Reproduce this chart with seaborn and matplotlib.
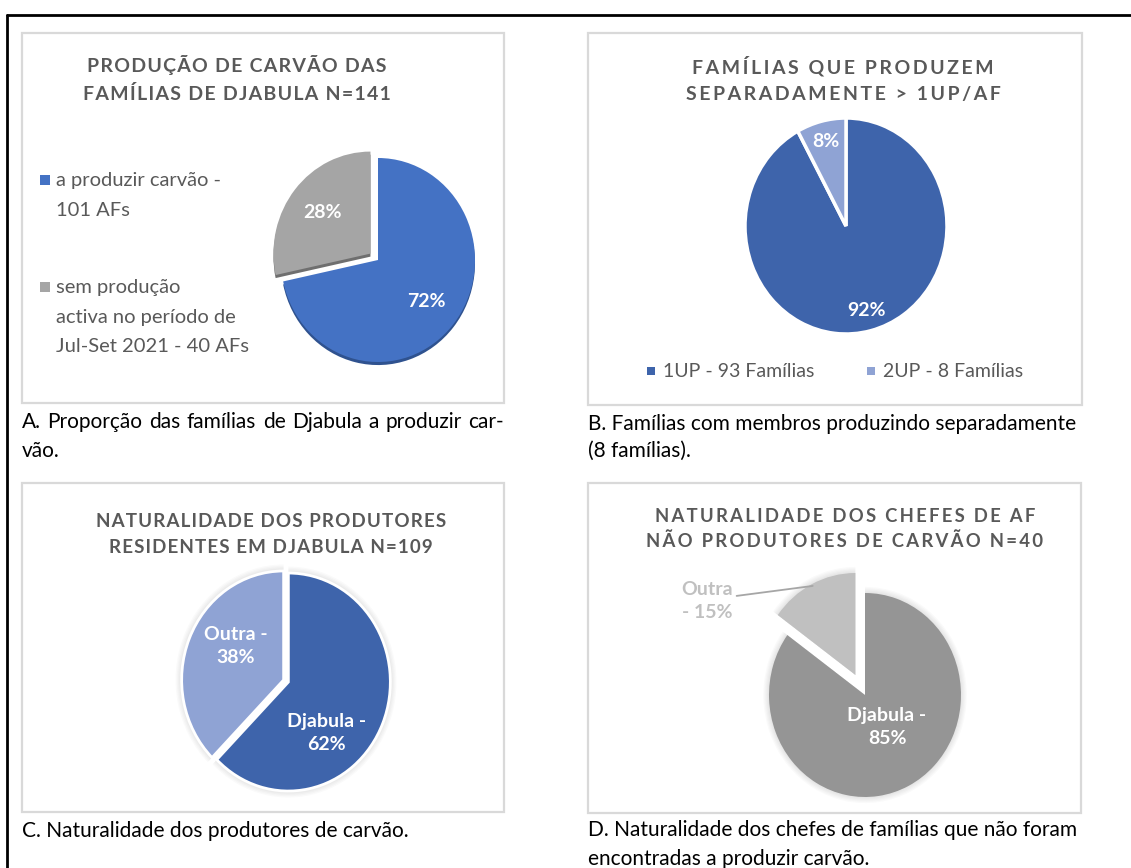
import matplotlib
matplotlib.use("Agg")
import matplotlib.pyplot as plt
from matplotlib.patches import Rectangle
from matplotlib.lines import Line2D
import numpy as np
import seaborn as sns

# values
a_labels = ["a produzir carvão -\n101 AFs", "sem produção\nactiva no período de\nJul-Set 2021 - 40 AFs"]
a_counts = [101, 40]
b_labels = ["1UP - 93 Famílias", "2UP - 8 Famílias"]
b_counts = [93, 8]
c_names = ["Djabula", "Outra"]
c_counts = [68, 41]
d_names = ["Djabula", "Outra"]
d_counts = [34, 6]

titles = [
    ["PRODUÇÃO DE CARVÃO DAS", "FAMÍLIAS DE DJABULA N=141"],
    ["FAMÍLIAS QUE PRODUZEM", "SEPARADAMENTE > 1UP/AF"],
    ["NATURALIDADE DOS PRODUTORES", "RESIDENTES EM DJABULA N=109"],
    ["NATURALIDADE DOS CHEFES DE AF", "NÃO PRODUTORES DE CARVÃO N=40"],
]
captions = [
    ["A. Proporção das famílias de Djabula a produzir car-", "vão."],
    ["B. Famílias com membros produzindo separadamente", "(8 famílias)."],
    ["C. Naturalidade dos produtores de carvão."],
    ["D. Naturalidade dos chefes de famílias que não foram", "encontradas a produzir carvão."],
]

sns.set_theme(style="white")
plt.rcParams['font.family'] = ['Lato', 'DejaVu Sans']

a_colors = sns.color_palette(["#4472C4", "#A5A5A5"])
a_dark = sns.color_palette(["#2F528F", "#6F6F6F"])
bc_colors = sns.color_palette(["#3E64AB", "#8FA3D4"])
d_colors = sns.color_palette(["#959595", "#C0C0C0"])
TXT = "#595959"

W, H = 1131, 868
fig = plt.figure(figsize=(W / 100, H / 100), dpi=100)
renderer = fig.canvas.get_renderer()


def fx(x):
    return x / W


def fy(y):
    return 1 - y / H


def box(x0, y0, x1, y1, **kw):
    fig.add_artist(Rectangle((fx(x0), fy(y1)), (x1 - x0) / W, (y1 - y0) / H,
                             transform=fig.transFigure, **kw))


def spaced(s, n):
    return ("\u200a" * n).join(s)


def justify(x0, x1, y, line, **kw):
    words = line.split(" ")
    arts = [fig.text(0, fy(y), w, ha='left', va='baseline', **kw) for w in words]
    widths = [a.get_window_extent(renderer).width for a in arts]
    gap = (x1 - x0 - sum(widths)) / (len(words) - 1)
    x = x0
    for a, wd in zip(arts, widths):
        a.set_x(fx(x))
        x += wd + gap


def pie_axes(cx, cy, rx, ry, half=150):
    ax = fig.add_axes([fx(cx - half), fy(cy + half), 2 * half / W, 2 * half / H])
    ax.patch.set_visible(False)
    return ax, half / rx, half / ry


def finish(ax, hx, hy):
    ax.set_aspect('auto')
    ax.set_xlim(-hx, hx)
    ax.set_ylim(-hy, hy)
    ax.axis('off')


def glow(ax, counts, explode):
    for k in range(1, 6):
        ax.pie(counts, startangle=90, counterclock=False, explode=explode,
               radius=1 + 0.012 * k, colors=['black'] * len(counts),
               wedgeprops=dict(alpha=0.018, linewidth=0))


# outer frame
fig.add_artist(Line2D([fx(7), 1], [fy(15), fy(15)], transform=fig.transFigure, color='black', lw=2))
fig.add_artist(Line2D([fx(7), fx(7)], [fy(15), 0], transform=fig.transFigure, color='black', lw=2))

# panel boxes
panels = [(22, 33, 504, 403), (588, 33, 1082, 405), (22, 483, 504, 812), (588, 483, 1081, 813)]
for p in panels:
    box(*p, facecolor='white', edgecolor='#D9D9D9', lw=1.6, zorder=0)

# titles
title_pos = [(237, [72, 100], 1), (843, [73, 100], 2), (271, [527, 553], 1), (845, [522, 547], 2)]
title_size = [14, 14, 13.5, 13.3]
for t, (x, ys, n), fs in zip(titles, title_pos, title_size):
    for line, y in zip(t, ys):
        fig.text(fx(x), fy(y), spaced(line, n), ha='center', va='baseline',
                 fontsize=fs, fontweight='bold', color=TXT)

# captions
cap_pos = [(22, [428, 457]), (588, [430, 457]), (22, [837]), (588, [836, 865])]
for i, (c, (x, ys)) in enumerate(zip(captions, cap_pos)):
    for j, (line, y) in enumerate(zip(c, ys)):
        if i == 0 and j == 0:
            justify(22, 504, y, line, fontsize=15, color='black')
        else:
            fig.text(fx(x), fy(y), line, ha='left', va='baseline', fontsize=15, color='black')

# ---- A ----
ax, hx, hy = pie_axes(378, 260, 97, 102)
ax.pie(a_counts, colors=a_dark, startangle=90, counterclock=False,
       explode=[0, 0.1], center=(0, -0.03), wedgeprops=dict(linewidth=0))
ax.pie(a_counts, colors=a_colors, startangle=90, counterclock=False,
       explode=[0, 0.1], autopct='%1.0f%%', pctdistance=0.64,
       wedgeprops=dict(linewidth=0),
       textprops=dict(color='white', fontsize=14, fontweight='bold'))
finish(ax, hx, hy)

leg_rows = [(180, [186, 216]), (287, [293, 323, 352])]
for lab, col, (my, ys) in zip(a_labels, a_colors, leg_rows):
    box(40, my - 5, 50, my + 5, facecolor=col, edgecolor='none')
    for line, y in zip(lab.split("\n"), ys):
        fig.text(fx(56), fy(y), line, ha='left', va='baseline', fontsize=14.5, color=TXT)

# ---- B ----
ax, hx, hy = pie_axes(846, 226, 101, 108)
ax.pie(b_counts, colors=bc_colors, startangle=90, counterclock=False,
       autopct='%1.0f%%', pctdistance=0.81,
       wedgeprops=dict(edgecolor='white', linewidth=2.5),
       textprops=dict(color='white', fontsize=14, fontweight='bold'))
finish(ax, hx, hy)
for lab, col, mx in zip(b_labels, bc_colors, [647, 867]):
    box(mx, 367, mx + 8, 375, facecolor=col, edgecolor='none')
    fig.text(fx(mx + 16), fy(377), lab, ha='left', va='baseline', fontsize=14, color=TXT)


def pie_label(ax, name, count, total, ang, dist, col):
    ax.text(dist * np.cos(np.radians(ang)), dist * np.sin(np.radians(ang)),
            f"{name} -\n{100 * count / total:.0f}%", ha='center', va='center', color=col,
            fontsize=14, fontweight='bold', linespacing=1.45)


# ---- C ----
ax, hx, hy = pie_axes(286, 681, 102, 109)
glow(ax, c_counts, [0.025, 0.025])
ax.pie(c_counts, colors=bc_colors, startangle=90, counterclock=False,
       explode=[0.025, 0.025], wedgeprops=dict(edgecolor='white', linewidth=2))
for name, cnt, ang, dist in zip(c_names, c_counts, [-50, 147], [0.62, 0.59]):
    pie_label(ax, name, cnt, sum(c_counts), ang, dist, 'white')
finish(ax, hx, hy)

# ---- D ----
ax, hx, hy = pie_axes(865, 695, 96, 102)
glow(ax, d_counts, [0, 0.22])
wedges, _ = ax.pie(d_counts, colors=d_colors, startangle=90, counterclock=False,
                   explode=[0, 0.22], wedgeprops=dict(linewidth=0))
pie_label(ax, d_names[0], d_counts[0], sum(d_counts), -54, 0.39, 'white')
finish(ax, hx, hy)
w = wedges[1]
mid = np.radians((w.theta1 + w.theta2) / 2)
ox, oy = w.center
ax.annotate(f"{d_names[1]}\n- {100 * d_counts[1] / sum(d_counts):.0f}%",
            xy=(ox + 0.98 * np.cos(mid), oy + 0.98 * np.sin(mid)),
            xytext=(-1.64, 0.92), ha='center', va='center', color=d_colors[1],
            fontsize=14, fontweight='bold', linespacing=1.45,
            arrowprops=dict(arrowstyle='-', color='#A6A6A6', lw=1.3,
                            shrinkA=0, shrinkB=0, relpos=(1, 0.62)))

fig.savefig("out.png", dpi=100)
